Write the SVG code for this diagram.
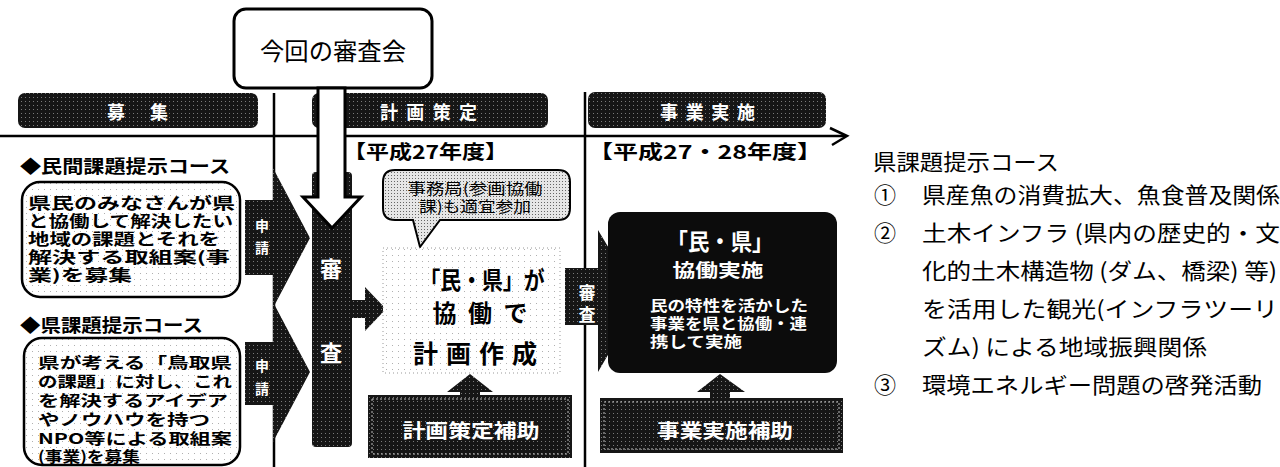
<svg xmlns="http://www.w3.org/2000/svg" width="1280" height="467" viewBox="0 0 1280 467">
<defs>
<pattern id="dk" width="4" height="4" patternUnits="userSpaceOnUse"><rect width="4" height="4" fill="#161616"/><rect x="1" y="1" width="1" height="1" fill="#7a7a7a"/></pattern>
<pattern id="lt" width="6" height="6" patternUnits="userSpaceOnUse"><rect width="6" height="6" fill="#fff"/><rect x="2" y="3" width="1" height="1" fill="#b0b0b0"/></pattern>
<pattern id="md" width="3" height="3" patternUnits="userSpaceOnUse"><rect width="3" height="3" fill="#e6e6e6"/><rect x="1" y="1" width="1" height="1" fill="#666"/></pattern>
</defs>
<style>
.jp{font-family:"Noto Sans CJK JP","Noto Sans CJK SC",sans-serif}
.b{font-weight:bold}
.w{fill:#fff}
.k{fill:#000}
.bar{fill:url(#dk)}
.ln{stroke:#000;stroke-width:2.5;fill:none}
.dark{fill:url(#dk)}
.rt{font-family:"Noto Sans CJK JP",sans-serif;font-size:22px;fill:#000}
</style>
<rect width="1280" height="467" fill="#fff"/>

<g id="connectors">
  <line class="ln" x1="0" y1="136" x2="846" y2="136"/>
  <polyline class="ln" points="830,128 847,136 832,145"/>
  <line class="ln" x1="274" y1="93" x2="274" y2="467"/>
  <line class="ln" x1="585" y1="92" x2="585" y2="467"/>
</g>

<g id="hdr-boshu">
  <rect class="bar" x="18" y="93" width="240" height="35" rx="7"/>
  <text class="jp b w" x="107" y="119" font-size="18" textLength="61" lengthAdjust="spacing">募 集</text>
</g>
<g id="hdr-keikaku">
  <rect class="bar" x="312" y="93" width="236" height="35" rx="7"/>
  <text class="jp b w" x="380" y="119" font-size="18" textLength="97" lengthAdjust="spacing">計画策定</text>
</g>
<g id="hdr-jigyo">
  <rect class="bar" x="588" y="92" width="238" height="36" rx="7"/>
  <text class="jp b w" x="660" y="119" font-size="18" textLength="95" lengthAdjust="spacing">事業実施</text>
</g>

<g id="year1">
  <text class="jp b k" x="343" y="159" font-size="19" textLength="165" lengthAdjust="spacingAndGlyphs">【平成27年度】</text>
</g>
<g id="year2">
  <text class="jp b k" x="588" y="159" font-size="19" textLength="234" lengthAdjust="spacingAndGlyphs">【平成27・28年度】</text>
</g>

<g id="course-minkan">
  <text class="jp b k" x="20" y="173" font-size="18" textLength="210" lengthAdjust="spacingAndGlyphs">◆民間課題提示コース</text>
  <rect x="22" y="182" width="218" height="115" rx="18" fill="url(#lt)" stroke="#000" stroke-width="2.5"/>
  <g class="jp b k" font-size="15.5">
    <text x="28" y="209" textLength="207" lengthAdjust="spacingAndGlyphs">県民のみなさんが県</text>
    <text x="28" y="227" textLength="205" lengthAdjust="spacingAndGlyphs">と協働して解決したい</text>
    <text x="28" y="245" textLength="192" lengthAdjust="spacingAndGlyphs">地域の課題とそれを</text>
    <text x="28" y="263" textLength="202" lengthAdjust="spacingAndGlyphs">解決する取組案(事</text>
    <text x="28" y="281" textLength="104" lengthAdjust="spacingAndGlyphs">業)を募集</text>
  </g>
</g>

<g id="course-ken">
  <text class="jp b k" x="20" y="332" font-size="18" textLength="183" lengthAdjust="spacingAndGlyphs">◆県課題提示コース</text>
  <rect x="24" y="338" width="216" height="127" rx="18" fill="url(#lt)" stroke="#000" stroke-width="2.5"/>
  <g class="jp b k" font-size="15">
    <text x="38" y="368" textLength="194" lengthAdjust="spacingAndGlyphs">県が考える「鳥取県</text>
    <text x="38" y="387" textLength="194" lengthAdjust="spacingAndGlyphs">の課題」に対し、これ</text>
    <text x="38" y="406" textLength="190" lengthAdjust="spacingAndGlyphs">を解決するアイデア</text>
    <text x="38" y="425" textLength="172" lengthAdjust="spacingAndGlyphs">やノウハウを持つ</text>
    <text x="38" y="444" textLength="194" lengthAdjust="spacingAndGlyphs">NPO等による取組案</text>
    <text x="38" y="462" textLength="102" lengthAdjust="spacingAndGlyphs">(事業)を募集</text>
  </g>
</g>

<g id="shinsei1">
  <polygon class="dark" points="245,200 273,200 273,168 310,238 273,308 273,275 245,275"/>
  <text class="jp b w" x="262" y="231" font-size="14" text-anchor="middle">申</text>
  <text class="jp b w" x="262" y="253" font-size="14" text-anchor="middle">請</text>
</g>
<g id="shinsei2">
  <polygon class="dark" points="245,342 273,342 273,302 310,372 273,442 273,405 245,405"/>
  <text class="jp b w" x="262" y="371" font-size="14" text-anchor="middle">申</text>
  <text class="jp b w" x="262" y="394" font-size="14" text-anchor="middle">請</text>
</g>

<g id="shinsa-column">
  <rect class="dark" x="312" y="172" width="40" height="275" rx="4"/>
  <polygon class="dark" points="350,300 365,300 365,287 386,309 365,331 365,318 350,318"/>
  <text class="jp b w" x="331" y="277" font-size="22" text-anchor="middle">審</text>
  <text class="jp b w" x="331" y="361" font-size="22" text-anchor="middle">査</text>
</g>

<g id="konkai">
  <rect x="234" y="9" width="198" height="79" rx="12" fill="#fff" stroke="#000" stroke-width="3"/>
  <text class="jp k" x="333" y="60" font-size="24" text-anchor="middle" textLength="146" lengthAdjust="spacingAndGlyphs">今回の審査会</text>
  <path d="M318,88 L318,197 L303,197 L332,228 L361,197 L345,197 L345,88 Z" fill="#fff" stroke="#000" stroke-width="3" stroke-linejoin="miter"/>
</g>

<g id="bubble">
  <path d="M395,170 H558 Q570,170 570,182 V208 Q570,220 558,220 H440 L420,247 L413,220 H395 Q383,220 383,208 V182 Q383,170 395,170 Z" fill="url(#md)" stroke="#000" stroke-width="2"/>
  <text class="jp k" x="475" y="194" font-size="15" text-anchor="middle" textLength="135" lengthAdjust="spacingAndGlyphs">事務局(参画協働</text>
  <text class="jp k" x="475" y="212" font-size="15" text-anchor="middle" textLength="112" lengthAdjust="spacingAndGlyphs">課)も適宜参加</text>
</g>

<g id="plan">
  <rect x="383" y="248" width="177" height="125" fill="url(#lt)" stroke="#999" stroke-width="1" stroke-dasharray="1,3"/>
  <text class="jp b k" x="482" y="289" font-size="24" text-anchor="middle" textLength="125" lengthAdjust="spacingAndGlyphs">「民・県」が</text>
  <text class="jp b k" x="480" y="322" font-size="24" text-anchor="middle" textLength="95" lengthAdjust="spacing">協働で</text>
  <text class="jp b k" x="475" y="363" font-size="25" text-anchor="middle" textLength="124" lengthAdjust="spacing">計画作成</text>
</g>

<g id="plan-support">
  <polygon class="dark" points="447,392 470,374 493,392 480,392 480,398 460,398 460,392"/>
  <rect class="dark" x="368" y="395" width="204" height="63"/>
  <rect x="372" y="399" width="196" height="55" fill="none" stroke="#bbb" stroke-width="1" stroke-dasharray="2,2"/>
  <text class="jp b w" x="471" y="438" font-size="19" text-anchor="middle" textLength="137" lengthAdjust="spacingAndGlyphs">計画策定補助</text>
</g>

<g id="shinsa2">
  <polygon class="dark" points="565,268 598,268 598,230 640,300 598,372 598,325 565,325"/>
  <text class="jp b w" x="587" y="299" font-size="17" text-anchor="middle">審</text>
  <text class="jp b w" x="587" y="321" font-size="17" text-anchor="middle">査</text>
</g>

<g id="kyodo">
  <rect x="608" y="212" width="229" height="161" rx="12" fill="#0c0c0c"/>
  <text class="jp b w" x="720" y="250" font-size="23" text-anchor="middle" textLength="107" lengthAdjust="spacingAndGlyphs">「民・県」</text>
  <text class="jp b w" x="718" y="277" font-size="18" text-anchor="middle" textLength="91" lengthAdjust="spacingAndGlyphs">協働実施</text>
  <text class="jp b w" x="650" y="311" font-size="14.5" textLength="158" lengthAdjust="spacingAndGlyphs">民の特性を活かした</text>
  <text class="jp b w" x="650" y="329" font-size="14.5" textLength="157" lengthAdjust="spacingAndGlyphs">事業を県と協働・連</text>
  <text class="jp b w" x="650" y="347" font-size="14.5" textLength="92" lengthAdjust="spacingAndGlyphs">携して実施</text>
</g>

<g id="jigyo-support">
  <polygon class="dark" points="697,392 720,374 745,392 730,392 730,400 710,400 710,392"/>
  <rect class="dark" x="600" y="398" width="243" height="55"/>
  <rect x="604" y="402" width="235" height="47" fill="none" stroke="#bbb" stroke-width="1" stroke-dasharray="2,2"/>
  <text class="jp b w" x="725" y="438" font-size="19" text-anchor="middle" textLength="136" lengthAdjust="spacingAndGlyphs">事業実施補助</text>
</g>

<g id="ken-course-list">
  <text class="rt" x="873" y="170" textLength="186" lengthAdjust="spacingAndGlyphs">県課題提示コース</text>
  <text class="rt" x="874" y="203">①</text>
  <text class="rt" x="922" y="203" textLength="358" lengthAdjust="spacingAndGlyphs">県産魚の消費拡大、魚食普及関係</text>
  <text class="rt" x="874" y="241">②</text>
  <text class="rt" x="922" y="241" textLength="358" lengthAdjust="spacingAndGlyphs">土木インフラ (県内の歴史的・文</text>
  <text class="rt" x="922" y="279" textLength="355" lengthAdjust="spacingAndGlyphs">化的土木構造物 (ダム、橋梁) 等)</text>
  <text class="rt" x="922" y="317" textLength="356" lengthAdjust="spacingAndGlyphs">を活用した観光(インフラツーリ</text>
  <text class="rt" x="922" y="355" textLength="285" lengthAdjust="spacingAndGlyphs">ズム) による地域振興関係</text>
  <text class="rt" x="874" y="393">③</text>
  <text class="rt" x="922" y="393" textLength="340" lengthAdjust="spacingAndGlyphs">環境エネルギー問題の啓発活動</text>
</g>
</svg>
